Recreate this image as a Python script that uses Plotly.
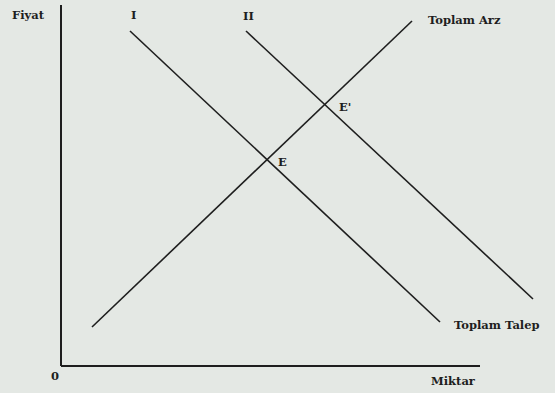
import plotly.graph_objects as go

# Conceptual diagram values (abstract units: quantity on x, price on y)
demand1_x = [69, 379]
demand1_y = [335, 44]
demand2_x = [185, 472]
demand2_y = [335, 67]
supply_x = [31, 351]
supply_y = [39, 345]
axis_x_max = 419
axis_y_max = 361

labels = ["Fiyat", "I", "II", "Toplam Arz", "E'", "E", "Toplam Talep", "0", "Miktar"]
label_x = [-33, 72, 187, 365, 276, 215, 391, -6, 368]
label_y = [351, 351, 350, 346, 259, 204, 41, -10, -15]
label_anchor = ["center", "center", "center", "left", "left", "left", "left", "center", "left"]

BG = "#e4e8e4"
INK = "#1e1e1e"
FONT = dict(family="DejaVu Serif", size=11.5, color=INK)

fig = go.Figure()
for xs, ys in [(demand1_x, demand1_y), (demand2_x, demand2_y), (supply_x, supply_y)]:
    fig.add_trace(go.Scatter(x=xs, y=ys, mode="lines",
                             line=dict(color=INK, width=1.6),
                             hoverinfo="skip", showlegend=False))

# axes
fig.add_shape(type="line", x0=0, y0=0, x1=axis_x_max, y1=0, line=dict(color=INK, width=2))
fig.add_shape(type="line", x0=0, y0=0, x1=0, y1=axis_y_max, line=dict(color=INK, width=2))

for t, x, y, a in zip(labels, label_x, label_y, label_anchor):
    fig.add_annotation(x=x, y=y, text="<b>%s</b>" % t, showarrow=False,
                       xanchor=a, yanchor="middle", font=FONT)

fig.update_layout(
    width=555, height=393,
    margin=dict(l=0, r=0, t=0, b=0),
    paper_bgcolor=BG, plot_bgcolor=BG,
    xaxis=dict(range=[-61, 494], visible=False, fixedrange=True),
    yaxis=dict(range=[-27, 366], visible=False, fixedrange=True),
    showlegend=False,
)
fig.write_html("out.html", config={"displayModeBar": False},
               post_script="document.body.style.margin='0';document.body.style.overflow='hidden';")
